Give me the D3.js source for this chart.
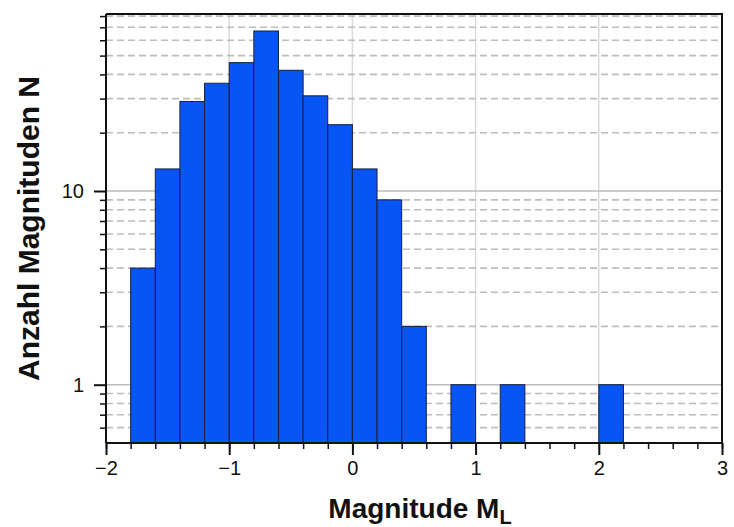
<!DOCTYPE html>
<html>
<head>
<meta charset="utf-8">
<script src="https://cdn.jsdelivr.net/npm/d3@7"></script>
<style>
  body { margin: 0; background: #fff; }
  text { font-family: 'Liberation Sans', Arial, Helvetica, sans-serif; }
</style>
</head>
<body>
<script>
'use strict';

// histogram bins (left edge, width 0.2) and counts
const binStarts = [-1.8, -1.6, -1.4, -1.2, -1.0, -0.8, -0.6, -0.4, -0.2, 0.0, 0.2, 0.4, 0.8, 1.2, 2.0];
const counts = [4, 13, 29, 36, 46, 67, 42, 31, 22, 13, 9, 2, 1, 1, 1];
const binWidth = 0.2;

const xTicks = [-2, -1, 0, 1, 2, 3];
const yMajorTicks = [1, 10];
const yMinorTicks = [0.6, 0.7, 0.8, 0.9, 2, 3, 4, 5, 6, 7, 8, 9, 20, 30, 40, 50, 60, 70, 80];

(function() {
  const width = 734;
  const height = 527;
  const plot = { left: 106, right: 722, top: 14, bottom: 443 };

  const svg = d3
    .select('body')
    .append('svg')
    .attr('width', width)
    .attr('height', height);

  const xScale = d3
    .scaleLinear()
    .domain([-2, 3])
    .range([plot.left, plot.right]);

  const yScale = d3
    .scaleLog()
    .domain([0.5, 82])
    .range([plot.bottom, plot.top]);

  // vertical grid at the major x ticks
  svg
    .append('g')
    .selectAll('line')
    .data(xTicks.filter(d => d > -2 && d < 3))
    .enter()
    .append('line')
    .attr('x1', d => xScale(d))
    .attr('x2', d => xScale(d))
    .attr('y1', plot.top)
    .attr('y2', plot.bottom)
    .attr('stroke', '#dadada')
    .attr('stroke-width', 1.5);

  // dashed minor grid
  svg
    .append('g')
    .selectAll('line')
    .data(yMinorTicks)
    .enter()
    .append('line')
    .attr('x1', plot.left)
    .attr('x2', plot.right)
    .attr('y1', d => yScale(d))
    .attr('y2', d => yScale(d))
    .attr('stroke', '#bdbdbd')
    .attr('stroke-width', 1.6)
    .attr('stroke-dasharray', '7,4');

  // solid major grid
  svg
    .append('g')
    .selectAll('line')
    .data(yMajorTicks)
    .enter()
    .append('line')
    .attr('x1', plot.left)
    .attr('x2', plot.right)
    .attr('y1', d => yScale(d))
    .attr('y2', d => yScale(d))
    .attr('stroke', '#bdbdbd')
    .attr('stroke-width', 1.6);

  // bars
  svg
    .append('g')
    .selectAll('rect')
    .data(binStarts.map((b, i) => ({ x0: b, n: counts[i] })))
    .enter()
    .append('rect')
    .attr('x', d => xScale(d.x0))
    .attr('width', d => xScale(d.x0 + binWidth) - xScale(d.x0))
    .attr('y', d => yScale(d.n))
    .attr('height', d => plot.bottom - yScale(d.n))
    .attr('fill', '#0855f6')
    .attr('stroke', '#1b1f3a')
    .attr('stroke-width', 1);

  // frame: top and right
  svg
    .append('path')
    .attr('d', `M${plot.left},${plot.top}H${plot.right}V${plot.bottom}`)
    .attr('fill', 'none')
    .attr('stroke', '#111')
    .attr('stroke-width', 2);

  // x axis with minor ticks
  const xMinor = d3.range(-2, 3.01, 0.2).map(v => Math.round(v * 10) / 10);
  svg
    .append('g')
    .attr('transform', `translate(0,${plot.bottom})`)
    .call(d3.axisBottom(xScale).tickValues(xMinor).tickSize(6).tickFormat(''))
    .call(g => g.select('.domain').remove())
    .call(g => g.selectAll('line').attr('stroke', '#111').attr('stroke-width', 1.5));

  svg
    .append('g')
    .attr('transform', `translate(0,${plot.bottom})`)
    .call(d3.axisBottom(xScale).tickValues(xTicks).tickSize(12).tickPadding(6).tickFormat(d3.format('d')))
    .call(g => g.select('.domain').attr('stroke', '#111').attr('stroke-width', 2).attr('d', `M${plot.left},0H${plot.right}`))
    .call(g => g.selectAll('line').attr('stroke', '#111').attr('stroke-width', 2))
    .call(g => g.selectAll('text').attr('fill', '#111').style('font-size', '20px'));

  // y axis with minor ticks
  svg
    .append('g')
    .attr('transform', `translate(${plot.left},0)`)
    .call(d3.axisLeft(yScale).tickValues(yMinorTicks).tickSize(6).tickFormat(''))
    .call(g => g.select('.domain').remove())
    .call(g => g.selectAll('line').attr('stroke', '#111').attr('stroke-width', 1.5));

  svg
    .append('g')
    .attr('transform', `translate(${plot.left},0)`)
    .call(d3.axisLeft(yScale).tickValues(yMajorTicks).tickSize(12).tickPadding(10).tickFormat(d3.format('d')))
    .call(g => g.select('.domain').attr('stroke', '#111').attr('stroke-width', 2).attr('d', `M0,${plot.bottom}V${plot.top}`))
    .call(g => g.selectAll('line').attr('stroke', '#111').attr('stroke-width', 2))
    .call(g => g.selectAll('text').attr('fill', '#111').style('font-size', '20px'));

  // axis titles
  const xTitle = svg
    .append('text')
    .attr('x', (plot.left + plot.right) / 2 + 6)
    .attr('y', 518)
    .attr('text-anchor', 'middle')
    .style('font-size', '28px')
    .style('font-weight', 'bold')
    .attr('fill', '#111');
  xTitle.append('tspan').text('Magnitude M');
  xTitle.append('tspan').attr('dy', 6).style('font-size', '20px').text('L');

  svg
    .append('text')
    .attr('transform', `translate(39, ${(plot.top + plot.bottom) / 2}) rotate(-90)`)
    .attr('text-anchor', 'middle')
    .style('font-size', '30px')
    .style('font-weight', 'bold')
    .attr('fill', '#111')
    .text('Anzahl Magnituden N');
})();
</script>
</body>
</html>
